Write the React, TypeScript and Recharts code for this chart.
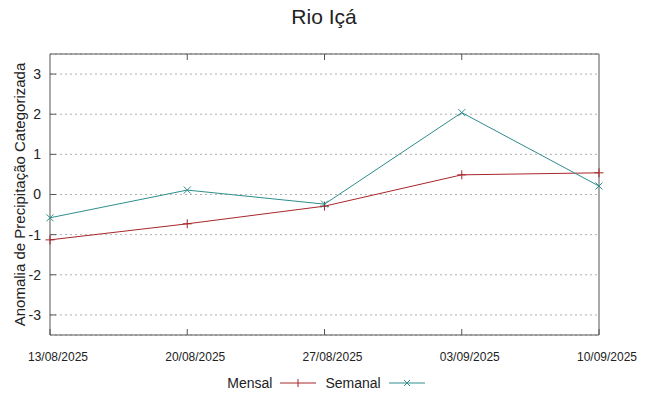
import { LineChart, Line, XAxis, YAxis, CartesianGrid, Label, ReferenceLine } from 'recharts'

const dates = ['13/08/2025', '20/08/2025', '27/08/2025', '03/09/2025', '10/09/2025']
const mensal = [-1.13, -0.73, -0.29, 0.49, 0.54]
const semanal = [-0.58, 0.11, -0.24, 2.04, 0.21]
const yTicks = [-3, -2, -1, 0, 1, 2, 3]

const RED = '#a8262a'
const TEAL = '#2f8d8d'
const BORDER = '#555'
const FONT = '"Liberation Sans", Arial, sans-serif'

const data = dates.map((d, i) => ({ date: d, mensal: mensal[i], semanal: semanal[i] }))

function PlusDot(props: any) {
  const { cx, cy, index } = props
  if (cx == null || cy == null) return <g key={`p${index}`} />
  return (
    <path
      key={`p${index}`}
      d={`M${cx - 4.5},${cy}h9M${cx},${cy - 4.5}v9`}
      stroke={RED}
      strokeWidth={1}
      fill="none"
    />
  )
}

function CrossDot(props: any) {
  const { cx, cy, index } = props
  if (cx == null || cy == null) return <g key={`x${index}`} />
  return (
    <path
      key={`x${index}`}
      d={`M${cx - 3.5},${cy - 3.5}l7,7M${cx - 3.5},${cy + 3.5}l7,-7`}
      stroke={TEAL}
      strokeWidth={1}
      fill="none"
    />
  )
}

export default function App() {
  return (
    <div style={{ position: 'absolute', left: 0, top: 0, width: 648, height: 396, fontFamily: FONT, background: '#fff' }}>
      <div
        style={{
          position: 'absolute',
          left: 0,
          top: 5,
          width: 648,
          textAlign: 'center',
          fontSize: 21,
          color: '#222',
        }}
      >
        Rio Içá
      </div>
      <LineChart width={648} height={396} data={data} margin={{ top: 54, right: 49, bottom: 31, left: 0 }}>
        <CartesianGrid horizontal vertical={false} stroke="#b0b0b0" strokeDasharray="2 3" />
        <XAxis
          dataKey="date"
          scale="point"
          padding={{ left: 0, right: 0 }}
          height={30}
          interval={0}
          stroke={BORDER}
          tickSize={-6}
          tickMargin={23}
          tick={{ fontSize: 12, fill: '#222', fontFamily: FONT, dx: 8 }}
        />
        <YAxis
          type="number"
          domain={[-3.5, 3.5]}
          ticks={yTicks}
          width={50}
          stroke={BORDER}
          tickSize={-6}
          tickMargin={15}
          tick={{ fontSize: 14, fill: '#222', fontFamily: FONT }}
        >
          <Label
            content={(p: any) => {
              const vb = p.viewBox || { x: 0, y: 54, height: 281 }
              const cy = vb.y + vb.height / 2
              return (
                <text
                  x={19}
                  y={cy}
                  transform={`rotate(-90, 19, ${cy})`}
                  textAnchor="middle"
                  dominantBaseline="central"
                  fontSize={15}
                  fill="#222"
                  fontFamily={FONT}
                >
                  Anomalia de Precipitação Categorizada
                </text>
              )
            }}
          />
        </YAxis>
        {/* top and right border of the plot box */}
        <ReferenceLine y={3.5} stroke={BORDER} ifOverflow="visible" />
        <ReferenceLine x={dates[dates.length - 1]} stroke={BORDER} ifOverflow="visible" />
        {/* inward ticks along the top border */}
        {dates.slice(1, -1).map((d) => (
          <ReferenceLine
            key={`tt${d}`}
            segment={[
              { x: d, y: 3.5 },
              { x: d, y: 3.35 },
            ]}
            stroke={BORDER}
            ifOverflow="visible"
          />
        ))}
        <Line
          dataKey="mensal"
          stroke={RED}
          strokeWidth={1}
          dot={PlusDot}
          activeDot={false}
          isAnimationActive={false}
        />
        <Line
          dataKey="semanal"
          stroke={TEAL}
          strokeWidth={1}
          dot={CrossDot}
          activeDot={false}
          isAnimationActive={false}
        />
      </LineChart>
      <div
        style={{
          position: 'absolute',
          left: 0,
          top: 374,
          width: 648,
          display: 'flex',
          justifyContent: 'center',
          alignItems: 'center',
          fontSize: 14,
          color: '#222',
          height: 18,
        }}
      >
        <span style={{ marginLeft: 4 }}>Mensal</span>
        <svg width={36} height={18} style={{ marginLeft: 8 }}>
          <line x1={0} y1={9} x2={36} y2={9} stroke={RED} strokeWidth={1} />
          <path d="M18,5v8" stroke={RED} strokeWidth={1} />
        </svg>
        <span style={{ marginLeft: 9 }}>Semanal</span>
        <svg width={36} height={18} style={{ marginLeft: 8 }}>
          <line x1={0} y1={9} x2={36} y2={9} stroke={TEAL} strokeWidth={1} />
          <path d="M15,6l6,6M15,12l6,-6" stroke={TEAL} strokeWidth={1} />
        </svg>
      </div>
    </div>
  )
}
